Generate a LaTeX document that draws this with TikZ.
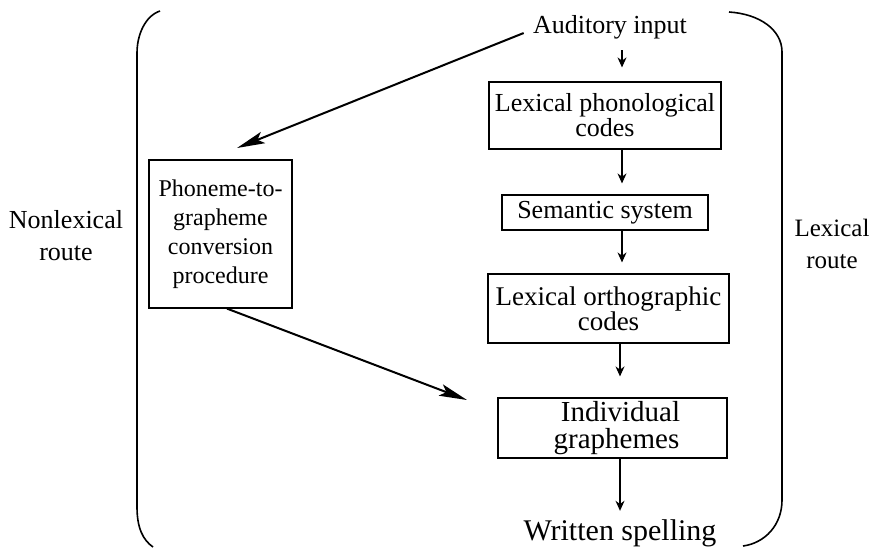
\documentclass[tikz,border=0pt]{standalone}
\usepackage{fontspec}
\setmainfont{Liberation Serif}
\usetikzlibrary{arrows.meta}
\usetikzlibrary{calc}

\tikzset{
  stage/.style={draw, line width=0.6pt, inner sep=0pt, align=center},
  label/.style={inner sep=0pt, align=center},
  flow/.style={-{Stealth[length=5pt,width=4.5pt]}, line width=0.6pt},
  route/.style={-{Stealth[length=14pt,width=6pt,inset=3pt]}, line width=1pt},
}
\newcommand{\fsz}[2]{\fontsize{#1}{#2}\selectfont}

\begin{document}
\begin{tikzpicture}[x=0.5pt,y=-0.5pt]
    \useasboundingbox (0,0) rectangle (871,547);

    % Brackets:
    % The two routes are closed in by round brackets drawn as curves
    \draw [line width=0.8pt] (160,11) .. controls (145,16) and (137,35) .. (137,53)
        -- (137,507) .. controls (137,528) and (143,540) .. (153,547);
    \draw [line width=0.8pt] (729,12) .. controls (760,14) and (782,30) .. (782,52)
        -- (782,500) .. controls (782,525) and (765,543) .. (743,546);

    % Route names:
    \node (nonlex) [label, font=\fsz{13}{16}] at (66,236) {Nonlexical\\route};
    \node (lex) [label, font=\fsz{12.5}{16}] at (832,244) {Lexical\\route};

    % Stages:
    \node (audin) [label, font=\fsz{13}{15}] at (610,27) {Auditory input};
    \node (lexphon) [stage, minimum width=116pt, minimum height=33.5pt, font=\fsz{13}{12.5}]
        at (605,115.5) {Lexical phonological\\codes};
    \node (semsys) [stage, minimum width=103pt, minimum height=17.5pt, font=\fsz{13}{15}]
        at (605,212.5) {Semantic system};
    \node (lexorth) [stage, minimum width=120.5pt, minimum height=34.5pt, font=\fsz{13.5}{12.5}]
        at (608.5,308.5) {Lexical orthographic\\codes};
    \node (indgraph) [stage, minimum width=114.5pt, minimum height=30pt, font=\fsz{14.5}{13.5}]
        at (612.5,428) {\hspace*{8pt}Individual\\\hspace*{4pt}graphemes};
    \node (written) [label, anchor=base, font=\fsz{15}{16}] at (620,540) {Written spelling};
    \node (pgc) [stage, minimum width=71.5pt, minimum height=74pt, font=\fsz{12}{14.5}]
        at (220.5,234) {Phoneme-to-\\grapheme\\conversion\\procedure};

    % Lexical route arrows:
    \coordinate (spine) at (622,0);
    \coordinate (spinelow) at (620,0);
    \draw [flow, shorten <=5.5pt, shorten >=7pt] (audin.south -| spine) -- (lexphon.north -| spine);
    \draw [flow, shorten >=5.5pt] (lexphon.south -| spine) -- (semsys.north -| spine);
    \draw [flow, shorten >=5.5pt] (semsys.south -| spine) -- (lexorth.north -| spine);
    \draw [flow, shorten >=10.5pt] (lexorth.south -| spinelow) -- (indgraph.north -| spinelow);
    \draw [flow, shorten >=4pt] (indgraph.south -| spinelow) -- (written.north -| spinelow);

    % Nonlexical route arrows:
    \coordinate (pgcin) at (237,148);
    \coordinate (igin) at (467,400);
    \draw [route] ([shift={(-9,6)}]audin.west) -- (pgcin);
    \draw [route] ([shift={(6.5,0)}]pgc.south) -- (igin);
\end{tikzpicture}
\end{document}
